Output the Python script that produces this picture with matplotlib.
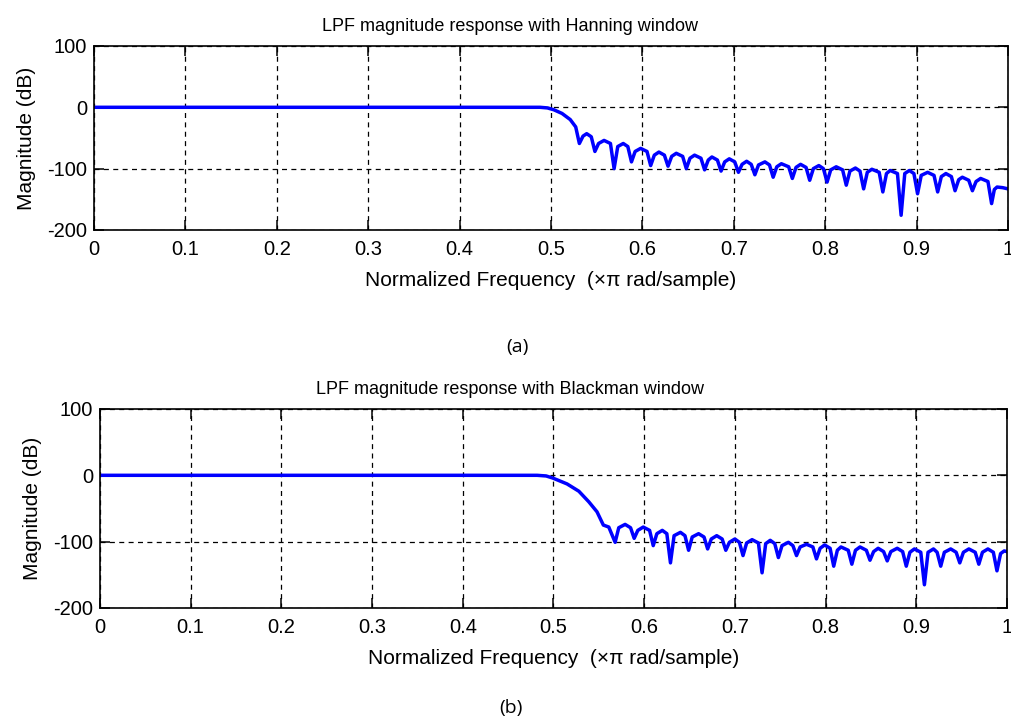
import matplotlib
matplotlib.use("Agg")
import matplotlib.pyplot as plt

plt.rcParams["font.family"] = ["Liberation Sans", "DejaVu Sans"]

# ---------------------------------------------------------------------------
# Data (normalized frequency, magnitude in dB)
# ---------------------------------------------------------------------------

freq_hann = [
    0.000, 0.488, 0.496, 0.503, 0.512, 0.521, 0.527, 0.531,
    0.535, 0.539, 0.544, 0.548,
    0.552, 0.558, 0.565, 0.569,
    0.573, 0.579, 0.584, 0.588,
    0.592, 0.598, 0.605, 0.609,
    0.613, 0.618, 0.624, 0.628,
    0.632, 0.637, 0.644, 0.648,
    0.652, 0.657, 0.664, 0.668,
    0.672, 0.676, 0.682, 0.686,
    0.690, 0.695, 0.701, 0.705,
    0.709, 0.714, 0.719, 0.723,
    0.727, 0.734, 0.739, 0.743,
    0.747, 0.752, 0.760, 0.764,
    0.768, 0.773, 0.779, 0.783,
    0.787, 0.793, 0.798, 0.802,
    0.806, 0.812, 0.819, 0.823,
    0.827, 0.833, 0.838, 0.842,
    0.846, 0.851, 0.859, 0.863,
    0.867, 0.871, 0.879, 0.883,
    0.887, 0.892, 0.897, 0.901,
    0.905, 0.912, 0.919, 0.923,
    0.927, 0.932, 0.938, 0.942,
    0.946, 0.950, 0.957, 0.961,
    0.965, 0.970, 0.978, 0.982,
    0.985, 0.988, 0.994, 1.000,
]
mag_hann = [
    0, 0, -1, -4, -10, -20, -32, -59,
    -47, -43, -48, -72,
    -59, -54, -59, -100,
    -64, -59, -64, -89,
    -72, -67, -72, -95,
    -78, -73, -78, -96,
    -80, -75, -80, -100,
    -83, -78, -83, -102,
    -86, -81, -86, -104,
    -89, -84, -89, -106,
    -93, -88, -93, -110,
    -94, -89, -94, -114,
    -97, -92, -97, -116,
    -98, -93, -98, -119,
    -100, -95, -100, -122,
    -102, -97, -102, -127,
    -104, -99, -104, -133,
    -106, -101, -106, -138,
    -108, -103, -108, -176,
    -108, -103, -108, -141,
    -111, -106, -111, -138,
    -113, -108, -113, -136,
    -118, -114, -119, -136,
    -121, -116, -121, -157,
    -134, -130, -131, -133,
]

freq_black = [
    0.000, 0.482, 0.492, 0.499, 0.515, 0.528, 0.539, 0.548, 0.555, 0.561, 0.568,
    0.572, 0.579, 0.585, 0.589,
    0.593, 0.599, 0.606, 0.610,
    0.614, 0.620, 0.625, 0.629,
    0.633, 0.640, 0.645, 0.649,
    0.653, 0.660, 0.666, 0.670,
    0.674, 0.680, 0.686, 0.690,
    0.694, 0.700, 0.705, 0.709,
    0.713, 0.719, 0.726, 0.730,
    0.734, 0.739, 0.744, 0.748,
    0.752, 0.759, 0.764, 0.768,
    0.772, 0.779, 0.786, 0.790,
    0.794, 0.799, 0.805, 0.809,
    0.813, 0.817, 0.825, 0.829,
    0.833, 0.838, 0.845, 0.849,
    0.853, 0.858, 0.864, 0.868,
    0.872, 0.879, 0.885, 0.889,
    0.893, 0.898, 0.905, 0.909,
    0.913, 0.919, 0.923, 0.927,
    0.931, 0.938, 0.944, 0.948,
    0.952, 0.958, 0.965, 0.969,
    0.973, 0.979, 0.985, 0.989,
    0.993, 0.997, 1.000,
]
mag_black = [
    0, 0, -1, -4, -13, -24, -40, -55, -75, -78, -101,
    -79, -74, -79, -95,
    -83, -78, -83, -106,
    -88, -83, -88, -132,
    -91, -86, -91, -113,
    -93, -88, -93, -111,
    -96, -91, -96, -113,
    -101, -96, -101, -121,
    -102, -97, -102, -147,
    -103, -98, -103, -124,
    -106, -101, -106, -121,
    -108, -104, -108, -126,
    -110, -105, -110, -137,
    -113, -108, -113, -134,
    -113, -108, -113, -128,
    -115, -110, -115, -129,
    -115, -110, -115, -137,
    -116, -111, -116, -165,
    -116, -111, -116, -137,
    -116, -111, -116, -132,
    -116, -111, -116, -134,
    -116, -111, -116, -144,
    -118, -114, -115,
]

x_ticks = [0, 0.1, 0.2, 0.3, 0.4, 0.5, 0.6, 0.7, 0.8, 0.9, 1]
x_tick_labels = ["0", "0.1", "0.2", "0.3", "0.4", "0.5", "0.6", "0.7", "0.8", "0.9", "1"]
y_ticks = [-200, -100, 0, 100]
y_tick_labels = ["-200", "-100", "0", "100"]

titles = ["LPF magnitude response with Hanning window",
          "LPF magnitude response with Blackman window"]
captions = ["(a)", "(b)"]

TITLE_FS = 13
TICK_FS = 14.5
LABEL_FS = 15


def style_axes(ax, title, title_x):
    ax.set_xlim(0, 1)
    ax.set_ylim(-200, 100)
    ax.set_xticks(x_ticks)
    ax.set_xticklabels(x_tick_labels)
    ax.set_yticks(y_ticks)
    ax.set_yticklabels(y_tick_labels)
    ax.tick_params(direction="in", length=7, width=1.1, top=True, right=True,
                   labelsize=TICK_FS, colors="black")
    ax.tick_params(axis="x", pad=7)
    ax.tick_params(axis="y", pad=5)
    ax.grid(True, color="black", linestyle=(0, (4, 3.5)), linewidth=0.9)
    for sp in ax.spines.values():
        sp.set_linewidth(1.2)
    ax.set_title(title, fontsize=TITLE_FS, pad=11, x=title_x)
    ax.set_xlabel("Normalized Frequency  (\u00d7\u03c0 rad/sample)", fontsize=LABEL_FS, labelpad=9)
    ax.set_ylabel("Magnitude (dB)", fontsize=LABEL_FS, labelpad=8)


fig = plt.figure(figsize=(10.12, 7.25), dpi=100)
fig.patch.set_facecolor("white")

ax1 = fig.add_axes([0.0929, 0.6828, 0.9032, 0.2538])
ax1.plot(freq_hann, mag_hann, color="#0000ff", linewidth=2.5, solid_joinstyle="round")
style_axes(ax1, titles[0], 0.455)

ax2 = fig.add_axes([0.0988, 0.1614, 0.8962, 0.2745])
ax2.plot(freq_black, mag_black, color="#0000ff", linewidth=2.5, solid_joinstyle="round")
style_axes(ax2, titles[1], 0.452)

fig.text(517 / 1012, 1 - 347 / 725, captions[0], fontsize=14, family=["Open Sans", "DejaVu Sans"],
         ha="center", va="center")
fig.text(511 / 1012, 1 - 708 / 725, captions[1], fontsize=14, family=["Open Sans", "DejaVu Sans"],
         ha="center", va="center")

fig.savefig("out.png", dpi=100, facecolor="white")
